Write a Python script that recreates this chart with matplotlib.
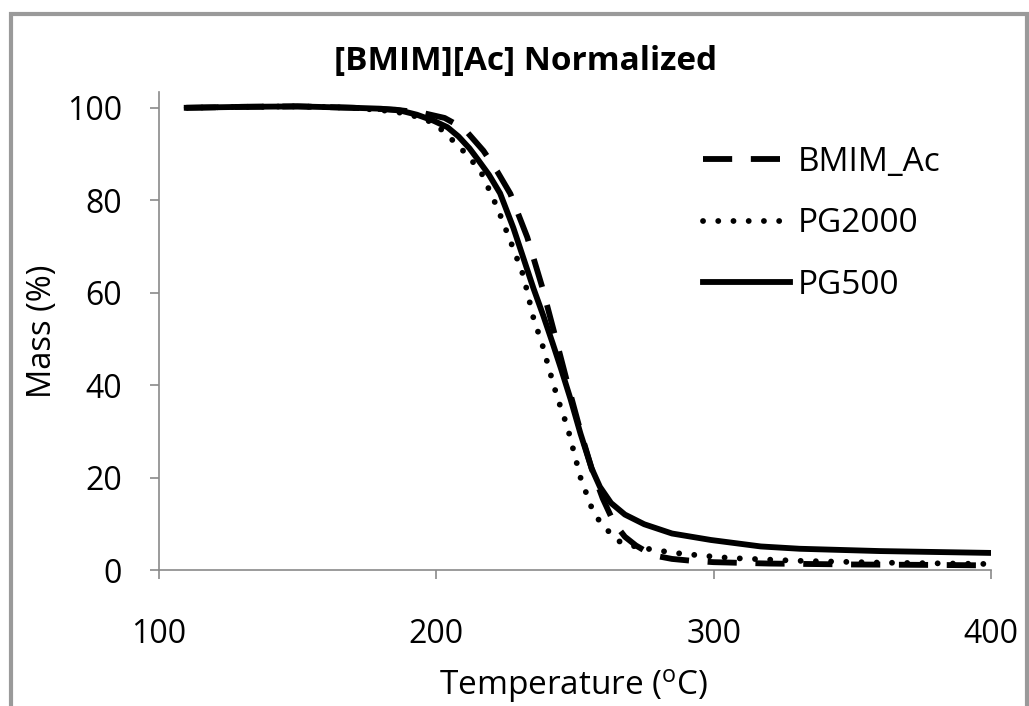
import numpy as np
import matplotlib.pyplot as plt
from matplotlib.patches import Rectangle

plt.rcParams['font.family'] = ['Open Sans', 'DejaVu Sans']
plt.rcParams['mathtext.fontset'] = 'custom'
plt.rcParams['mathtext.rm'] = 'Open Sans'

# values (temperature in C, mass in %)
temp_bmim = [110, 130, 150, 170, 185, 195, 203, 210, 217, 222, 226.7, 232.8, 238.3, 243,
             247.3, 252, 256, 260, 264, 268, 272, 278, 285, 292, 300, 320, 350, 380, 400]
mass_bmim = [100, 100.2, 100.3, 100, 99.6, 98.9, 97.8, 95.5, 90.7, 86.2, 81.4, 72, 61, 50.3,
             40.4, 30, 22, 15.5, 10.3, 7.2, 5.3, 3.2, 2.4, 2, 1.7, 1.4, 1.2, 1.1, 1.0]

temp_pg2000 = [110, 130, 150, 170, 185, 195, 200, 205, 210, 215.9, 222, 227.8, 231.4, 235,
               238.3, 241, 243.6, 247.3, 252, 256, 259, 263, 266, 271, 278, 286, 296, 306,
               330, 360, 400]
mass_pg2000 = [100, 100.2, 100.3, 100, 99.2, 97.8, 96.3, 93.5, 90.5, 86.4, 78.4, 69.5, 63.7, 54.6,
               48.6, 42.8, 37.4, 30.9, 20, 13.5, 10.4, 7.8, 6.2, 5.2, 4.4, 3.7, 3.1, 2.6,
               2, 1.6, 1.3]

temp_pg500 = [110, 130, 150, 170, 180, 187, 193, 199, 204, 208, 212, 215, 219, 223, 227.8,
              231.4, 235, 238.6, 242, 245, 248.4, 252, 256, 259, 263, 268, 275, 285, 299,
              317, 331, 360, 400]
mass_pg500 = [100, 100.2, 100.3, 100, 99.8, 99.4, 98.5, 97.2, 95.8, 93.8, 91.2, 88.8, 85.5, 81.5, 74,
              67.5, 61, 55, 49, 43.5, 37, 29.5, 22, 18, 14.5, 12, 9.9, 7.9, 6.5,
              5.1, 4.6, 4.1, 3.7]

labels = ['BMIM_Ac', 'PG2000', 'PG500']

fig = plt.figure(figsize=(10.29, 7.06), dpi=100)
ax = fig.add_axes([0.1545, 0.1926, 0.8085, 0.677])

lw = 4.2
ax.plot(temp_bmim, mass_bmim, color='black', lw=lw, linestyle=(0, (5, 3.2)),
        dash_capstyle='butt', label=labels[0])
ax.plot(temp_pg2000, mass_pg2000, color='black', lw=lw, linestyle=(0, (0.01, 2.6)),
        dash_capstyle='round', label=labels[1])
ax.plot(temp_pg500, mass_pg500, color='black', lw=lw, label=labels[2])

ax.set_xlim(100, 400)
ax.set_ylim(0, 103.4)
ax.set_xticks([100, 200, 300, 400])
ax.set_yticks([0, 20, 40, 60, 80, 100])
for s in ['top', 'right']:
    ax.spines[s].set_visible(False)
for s in ['left', 'bottom']:
    ax.spines[s].set_color('#8a8a8a')
    ax.spines[s].set_linewidth(1.2)
ax.tick_params(axis='both', direction='out', color='#8a8a8a', width=1.2, length=6.5,
               labelsize=23)
ax.tick_params(axis='x', pad=28)
ax.tick_params(axis='y', pad=20)

fig.text(43 / 1029, 1 - 331 / 706, 'Mass (%)', rotation=90, fontsize=23.5,
         ha='center', va='center')
fig.text(574 / 1029, 1 - 686 / 706, 'Temperature ($\\mathrm{^o}$C)', fontsize=24,
         ha='center', va='center')
fig.text(526 / 1029, 1 - 62 / 706, '[BMIM][Ac] Normalized', fontsize=24,
         fontweight='bold', ha='center', va='center')

ax.legend(loc='upper left', bbox_to_anchor=(703 / 1029, 1 - 146 / 706),
          bbox_transform=fig.transFigure, frameon=False, fontsize=24,
          handlelength=2.6, handletextpad=0.24, labelspacing=0.85,
          borderpad=0, borderaxespad=0)

fig.patches.append(Rectangle((11 / 1029, -0.05), 1016 / 1029, 1.05 - 14 / 706,
                             transform=fig.transFigure, fill=False,
                             edgecolor='#9a9a9a', lw=3))

fig.savefig('out.png', dpi=100)
